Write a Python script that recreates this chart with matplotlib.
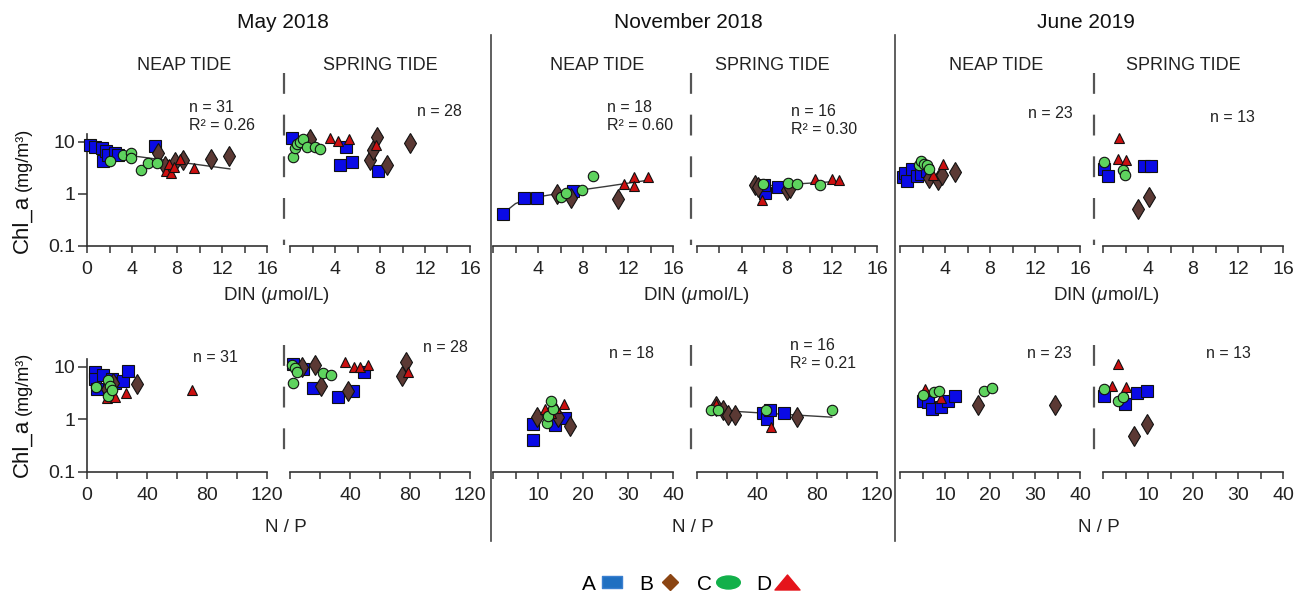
import matplotlib
matplotlib.use("Agg")
import matplotlib.pyplot as plt
import numpy as np
from matplotlib.lines import Line2D
from matplotlib.path import Path
from matplotlib.ticker import FixedLocator, NullLocator
from matplotlib.transforms import Affine2D

plt.rcParams["font.family"] = ["Liberation Sans", "DejaVu Sans"]
plt.rcParams["mathtext.fontset"] = "custom"
plt.rcParams["mathtext.it"] = "Liberation Sans:italic"
plt.rcParams["mathtext.rm"] = "Liberation Sans"
plt.rcParams["lines.scale_dashes"] = False

W, H = 1309, 597

# ---- data: station -> (x, Chl_a mg/m3) ----
# top row, x = DIN (umol/L)
may_neap_din = {
    "A": ([0.27, 0.7, 1.3, 1.4, 1.7, 1.9, 2.5, 2.75, 6.0],
          [8.5, 8.0, 7.6, 4.2, 6.5, 5.6, 6.1, 5.6, 8.4]),
    "B": ([6.3, 6.9, 7.8, 8.5, 11.0, 12.65], [6.0, 3.4, 4.0, 4.4, 4.6, 5.3]),
    "C": ([2.0, 3.2, 3.95, 3.95, 4.8, 5.4, 6.2], [4.3, 5.6, 6.0, 4.9, 2.9, 3.9, 3.9]),
    "D": ([7.05, 7.3, 7.5, 7.7, 8.3, 9.5], [2.7, 3.8, 2.5, 3.3, 4.6, 3.1]),
}
may_spring_din = {
    "A": ([0.15, 4.4, 5.0, 5.55, 7.8], [11.8, 3.5, 8.0, 4.1, 2.7]),
    "B": ([1.8, 7.1, 7.4, 7.7, 8.65, 10.7], [11.0, 4.5, 7.0, 12.5, 3.5, 9.4]),
    "C": ([0.25, 0.45, 0.65, 0.9, 1.15, 1.5, 2.2, 2.7], [5.0, 7.4, 9.0, 10.0, 11.0, 8.0, 7.8, 7.2]),
    "D": ([3.55, 4.3, 5.2, 7.65], [11.8, 10.5, 11.0, 8.5]),
}
nov_neap_din = {
    "A": ([0.92, 2.76, 3.94, 7.1], [0.41, 0.83, 0.83, 1.11]),
    "B": ([5.7, 6.9, 11.1], [0.98, 0.84, 0.78]),
    "C": ([6.0, 6.5, 7.9, 8.9], [0.87, 1.02, 1.19, 2.2]),
    "D": ([11.6, 12.5, 12.5, 13.8], [1.56, 2.1, 1.43, 2.1]),
}
nov_spring_din = {
    "A": ([5.6, 6.05, 7.2, 6.0], [1.43, 1.03, 1.35, 1.5]),
    "B": ([5.15, 5.4, 8.0, 8.25], [1.5, 1.35, 1.19, 1.3]),
    "C": ([5.9, 8.1, 8.9, 10.9], [1.56, 1.62, 1.55, 1.5]),
    "D": ([5.75, 10.5, 12.0, 12.65], [0.77, 1.9, 1.9, 1.8]),
}
jun_neap_din = {
    "A": ([0.3, 0.44, 0.6, 1.1, 1.5, 1.9, 2.4], [2.1, 2.5, 1.75, 3.0, 2.2, 2.35, 2.7]),
    "B": ([2.6, 3.4, 3.7, 4.9], [2.0, 1.85, 2.3, 2.6]),
    "C": ([1.7, 1.9, 2.1, 2.4, 2.6], [3.6, 4.2, 3.8, 3.5, 3.0]),
    "D": ([2.9, 3.8], [2.3, 3.7]),
}
jun_spring_din = {
    "A": ([0.1, 0.47, 3.6, 4.3], [3.0, 2.15, 3.35, 3.45]),
    "B": ([3.14, 4.1], [0.51, 0.86]),
    "C": ([0.05, 1.75, 1.96], [4.0, 2.9, 2.3]),
    "D": ([1.36, 1.45, 2.04], [4.6, 11.5, 4.5]),
}

# bottom row, x = N/P
may_neap_np = {
    "A": ([5.3, 5.3, 6.4, 10.8, 16.4, 18.6, 24.0, 27.0], [7.8, 5.8, 3.8, 7.0, 5.8, 5.0, 5.4, 8.3]),
    "B": ([13.0, 17.5, 33.4], [3.8, 5.0, 4.7]),
    "C": ([6.0, 14.1, 15.2, 14.1, 16.4], [4.2, 5.5, 4.3, 2.8, 3.6]),
    "D": ([13.0, 18.6, 25.9, 69.8], [2.5, 2.6, 3.2, 3.6]),
}
may_spring_np = {
    "A": ([2.2, 8.4, 15.6, 32.2, 42.2, 49.3], [11.3, 9.0, 4.0, 2.7, 3.5, 8.1]),
    "B": ([7.8, 16.7, 20.7, 38.9, 74.4, 77.3], [10.0, 11.0, 4.3, 3.5, 6.7, 12.1]),
    "C": ([1.1, 1.8, 3.3, 4.4, 21.8, 27.1], [11.0, 5.0, 9.5, 7.8, 7.6, 7.1]),
    "D": ([36.7, 42.7, 46.7, 52.2, 78.9], [12.1, 10.0, 9.7, 11.0, 8.1]),
}
nov_neap_np = {
    "A": ([8.96, 8.96, 13.8, 16.0], [0.8, 0.4, 0.78, 1.07]),
    "B": ([9.85, 14.5, 17.0], [1.1, 1.1, 0.74]),
    "C": ([12.1, 12.3, 13.3, 12.9], [0.86, 1.16, 1.6, 2.24]),
    "D": ([11.6, 12.8, 14.0, 15.8], [1.55, 1.3, 1.63, 1.99]),
}
nov_spring_np = {
    "A": ([44.2, 46.9, 48.7, 58.0], [1.34, 1.0, 1.49, 1.34]),
    "B": ([12.7, 17.6, 20.9, 25.3, 66.4], [1.8, 1.53, 1.19, 1.19, 1.1]),
    "C": ([9.1, 14.2, 46.0, 90.2], [1.49, 1.53, 1.49, 1.49]),
    "D": ([12.7, 49.3], [1.93, 0.71]),
}
jun_neap_np = {
    "A": ([5.2, 6.3, 7.0, 9.0, 10.7, 12.2], [2.24, 2.1, 1.55, 1.7, 2.24, 2.8]),
    "B": ([17.4, 34.4], [1.88, 1.85]),
    "C": ([5.2, 7.6, 8.7, 18.7, 20.5], [2.9, 3.3, 3.5, 3.5, 4.0]),
    "D": ([5.6, 9.0], [3.7, 2.5]),
}
jun_spring_np = {
    "A": ([0.2, 4.9, 7.5, 9.7], [2.8, 1.93, 3.2, 3.4]),
    "B": ([6.9, 9.7], [0.49, 0.82]),
    "C": ([0.2, 3.3, 4.4], [3.75, 2.24, 2.67]),
    "D": ([2.1, 3.4, 5.1], [4.3, 11.3, 4.1]),
}

# fitted curves as they appear in the figure
fit_may_neap_din = ([0.0, 12.7], [7.0, 3.0])
fit_nov_neap_din = ([0.9, 2.0, 3.0, 4.5, 6.0, 8.0, 10.0, 12.0, 14.0],
                    [0.42, 0.65, 0.78, 0.91, 1.03, 1.2, 1.38, 1.6, 1.85])
fit_nov_spring_din = ([5.2, 12.9], [1.38, 1.75])
fit_nov_spring_np = ([10.9, 89.8], [1.5, 1.1])

stats_top = [["n = 31", "R² = 0.26"], ["n = 28"], ["n = 18", "R² = 0.60"],
             ["n = 16", "R² = 0.30"], ["n = 23"], ["n = 13"]]
stats_bottom = [["n = 31"], ["n = 28"], ["n = 18"], ["n = 16", "R² = 0.21"],
                ["n = 23"], ["n = 13"]]

months = ["May 2018", "November 2018", "June 2019"]

# ---- styling / layout (pixels) ----
STYLE = {
    "A": dict(marker="s", ms=8.0, mfc="#0a0ae6"),
    "B": dict(marker="d", ms=10.0, mfc="#5b3934"),
    "C": dict(marker="o", ms=7.5, mfc="#5ed35e"),
    "D": dict(marker="^", ms=6.5, mfc="#cc1010"),
}
DRAW_ORDER = ["A", "B", "D", "C"]
LEFTS = [87, 290, 493, 697, 900, 1103]
PW = 180
ROWS = [(134, 246), (359, 472)]
YLIM = (0.1, 14)
INK = "#333333"

top_stat_pos = [(189, 108), (417, 112), (607, 108), (791, 112), (1028, 114), (1210, 117)]
bot_stat_pos = [(193, 357), (423, 347), (609, 354), (790, 346), (1027, 353), (1206, 353)]


def fx(x):
    return x / W


def fy(y):
    return 1 - y / H


def draw_panel(ax, data, xmax, step, label_every, first, fit=None):
    ax.set_yscale("log")
    ax.set_ylim(*YLIM)
    ax.set_xlim(0, xmax)
    ax.patch.set_alpha(0)
    for s in ("top", "right"):
        ax.spines[s].set_visible(False)
    ax.spines["bottom"].set_linewidth(1.2)
    ax.spines["bottom"].set_color(INK)

    ticks = np.arange(0, xmax + step / 2, step)
    ax.xaxis.set_major_locator(FixedLocator(ticks))
    labels = []
    for t in ticks:
        show = (round(t) % label_every == 0) and (t > 0 or first)
        labels.append(f"{t:g}" if show else "")
    ax.set_xticklabels(labels)
    ax.tick_params(axis="x", direction="out", length=5, width=1.1, color=INK,
                   labelsize=14, labelcolor="#222222", pad=6)
    ax.yaxis.set_minor_locator(NullLocator())

    if first:
        ax.spines["left"].set_linewidth(1.2)
        ax.spines["left"].set_color(INK)
        ax.yaxis.set_major_locator(FixedLocator([0.1, 1, 10]))
        ax.set_yticklabels(["0.1", "1", "10"])
        ax.tick_params(axis="y", direction="out", length=6.5, width=1.1, color=INK,
                       labelsize=14, labelcolor="#222222", pad=2)
    else:
        ax.spines["left"].set_visible(False)
        ax.tick_params(axis="y", left=False, labelleft=False)

    if fit is not None:
        ax.plot(fit[0], fit[1], color="#3a3a3a", lw=1.0, zorder=2)

    for k in DRAW_ORDER:
        xs, ys = data[k]
        st = STYLE[k]
        ax.plot(xs, ys, ls="none", marker=st["marker"], ms=st["ms"],
                mfc=st["mfc"], mec="#111111", mew=0.8, clip_on=False, zorder=3)


def main():
    fig = plt.figure(figsize=(W / 100, H / 100), dpi=100, facecolor="white")

    top = [may_neap_din, may_spring_din, nov_neap_din, nov_spring_din, jun_neap_din, jun_spring_din]
    bot = [may_neap_np, may_spring_np, nov_neap_np, nov_spring_np, jun_neap_np, jun_spring_np]
    top_fits = {0: fit_may_neap_din, 2: fit_nov_neap_din, 3: fit_nov_spring_din}
    bot_fits = {3: fit_nov_spring_np}
    bot_range = [(120, 20, 40), (120, 20, 40), (40, 5, 10), (120, 20, 40), (40, 5, 10), (40, 5, 10)]

    (t1, b1), (t2, b2) = ROWS
    for i, left in enumerate(LEFTS):
        ax = fig.add_axes([fx(left), fy(b1), PW / W, (b1 - t1) / H])
        draw_panel(ax, top[i], 16, 2, 4, i == 0, top_fits.get(i))
        ax2 = fig.add_axes([fx(left), fy(b2), PW / W, (b2 - t2) / H])
        xmax, step, lab = bot_range[i]
        draw_panel(ax2, bot[i], xmax, step, lab, i == 0, bot_fits.get(i))

    # n / R2 annotations
    for lines, (x, y) in zip(stats_top + stats_bottom, top_stat_pos + bot_stat_pos):
        for j, s in enumerate(lines):
            fig.text(fx(x), fy(y + 18 * j), s, ha="left", va="center",
                     fontsize=11.5, color="#222222")

    # headers
    for m, cx in zip(months, [283, 688, 1086]):
        fig.text(fx(cx), fy(22), m, ha="center", va="center", fontsize=15, color="#111111")
    for cx in [184, 597, 996]:
        fig.text(fx(cx), fy(65), "NEAP TIDE", ha="center", va="center", fontsize=13, color="#222222")
    for cx in [380, 772, 1183]:
        fig.text(fx(cx), fy(65), "SPRING TIDE", ha="center", va="center", fontsize=13, color="#222222")

    # axis titles
    for cx in [276, 696, 1106]:
        fig.text(fx(cx), fy(296), r"DIN ($\mu$mol/L)", ha="center", va="center",
                 fontsize=13.5, color="#222222")
    for cx in [286, 693, 1099]:
        fig.text(fx(cx), fy(528), "N / P", ha="center", va="center", fontsize=13.5, color="#222222")
    for yb in [253, 477]:
        fig.text(fx(22), fy(yb), "Chl_a", rotation=90, ha="center", va="bottom",
                 fontsize=16, color="#111111")
        fig.text(fx(23), fy(yb - 62), "(mg/m³)", rotation=90, ha="center", va="bottom",
                 fontsize=13, color="#111111")

    # separators
    for x in [491, 895]:
        fig.add_artist(Line2D([fx(x), fx(x)], [fy(35), fy(541)], transform=fig.transFigure,
                              color="#444444", lw=1.2))
    for x in [284, 691, 1094]:
        for ya, yb in [(73, 245), (345, 462)]:
            fig.add_artist(Line2D([fx(x), fx(x)], [fy(ya), fy(yb)], transform=fig.transFigure,
                                  color="#555555", lw=1.6, linestyle=(0, (15, 15))))

    # legend
    rect = Path([(-1, -0.58), (1, -0.58), (1, 0.58), (-1, 0.58), (-1, -0.58)], closed=True)
    ellipse = Path.unit_circle().transformed(Affine2D().scale(1, 0.55))
    tri = Path([(0, 0.6), (1, -0.6), (-1, -0.6), (0, 0.6)], closed=True)
    handles = [
        Line2D([], [], ls="none", marker=rect, ms=14, mfc="#1f6fc1", mec="#3a7fd0"),
        Line2D([], [], ls="none", marker="D", ms=8.5, mfc="#8b4513", mec="#8b4513"),
        Line2D([], [], ls="none", marker=ellipse, ms=17, mfc="#12b04a", mec="#12b04a"),
        Line2D([], [], ls="none", marker=tri, ms=18, mfc="#e5141b", mec="#e5141b"),
    ]
    fig.legend(handles, ["A", "B", "C", "D"], loc="center", bbox_to_anchor=(fx(691), fy(584)),
               ncol=4, frameon=False, markerfirst=False, fontsize=15, handlelength=1.25,
               handletextpad=0.15, columnspacing=0.7)

    fig.savefig("out.png", dpi=100, facecolor="white")
    plt.close(fig)


if __name__ == "__main__":
    main()
